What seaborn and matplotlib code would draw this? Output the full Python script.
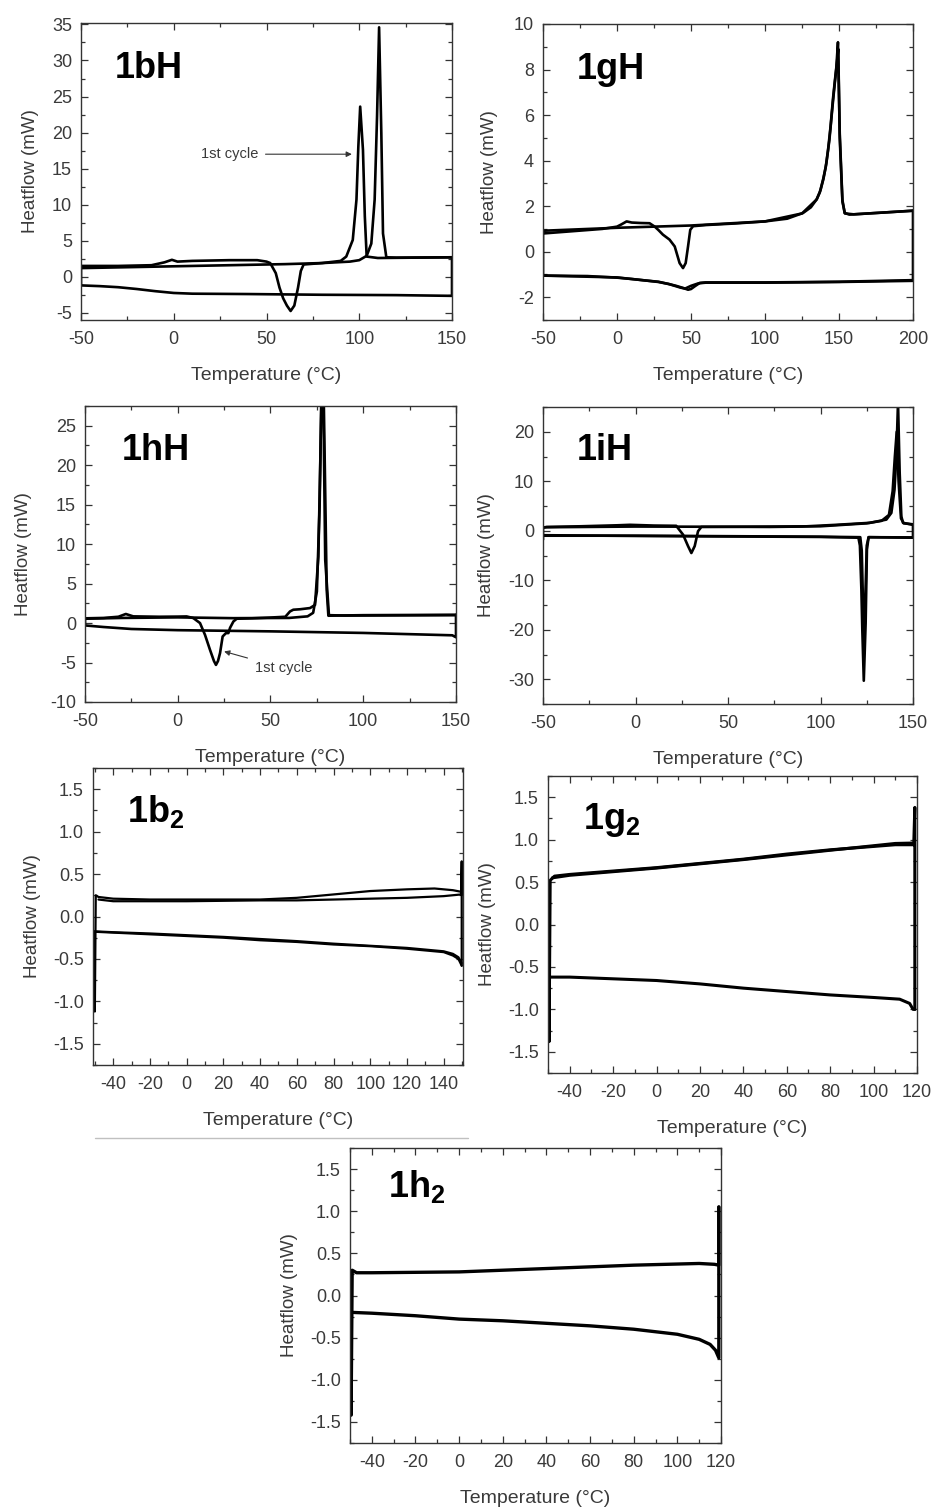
import matplotlib
matplotlib.use("Agg")
import matplotlib.pyplot as plt
import seaborn as sns
import pandas as pd
from matplotlib.ticker import MultipleLocator
from matplotlib.lines import Line2D

# ---------------- data ----------------
# 1bH
BH_HEAT1_T = [-50, -30, -12, -5, -1, 2, 10, 30, 45, 50, 52, 55, 57, 59, 61, 63, 65, 67, 68.5, 70,
              80, 90, 93, 96.5, 98.5, 99.5, 100.5, 102, 103, 104, 110, 130, 150]
BH_HEAT1_H = [1.5, 1.5, 1.6, 2.0, 2.35, 2.1, 2.2, 2.3, 2.3, 2.1, 1.9, 0.5, -1.5, -3.0, -4.0, -4.75, -4.0, -1.5, 0.8, 1.7,
              1.9, 2.2, 2.8, 5.1, 10.7, 18.0, 23.6, 17.6, 8.4, 2.8, 2.6, 2.65, 2.7]
BH_HEAT2_T = [-50, -20, 0, 20, 40, 60, 80, 95, 100, 104, 106.5, 108.3, 109.6, 110.7, 111.9, 112.8, 114.6, 120, 150]
BH_HEAT2_H = [1.2, 1.35, 1.45, 1.55, 1.65, 1.75, 1.9, 2.1, 2.3, 2.9, 4.6, 10.7, 22.3, 34.6, 19.9, 6.0, 2.7, 2.65, 2.7]
BH_COOL_T = [150, 150, 120, 80, 40, 10, 0, -10, -20, -30, -40, -50, -50]
BH_COOL_H = [2.7, -2.65, -2.55, -2.5, -2.4, -2.35, -2.25, -2.0, -1.7, -1.45, -1.3, -1.2, 1.5]

# 1gH
GH_HEAT1_T = [-50, -30, -10, 0, 3, 6.5, 10, 16, 22, 25.5, 28, 31, 35.5, 39, 42.3, 44.6, 46.4, 48, 49.5, 51.4,
              60, 80, 100, 115, 125.7, 131, 134.7, 137, 139.2, 141, 142.6, 144.3, 145.9, 147.2, 148.2, 149.3,
              150.5, 152.3, 153.8, 157, 180, 200]
GH_HEAT1_H = [0.8, 0.9, 1.0, 1.1, 1.2, 1.33, 1.28, 1.26, 1.25, 1.1, 0.95, 0.75, 0.53, 0.23, -0.5, -0.72, -0.5, 0.23, 0.96, 1.12,
              1.17, 1.24, 1.33, 1.45, 1.7, 1.95, 2.28, 2.6, 3.16, 3.7, 4.47, 5.5, 6.7, 7.5, 8.1, 9.2,
              5.2, 2.28, 1.7, 1.63, 1.72, 1.8]
GH_HEAT2_T = [-50, 0, 50, 100, 125, 135, 137.5, 139.5, 141.5, 143.5, 145.5, 147, 148.3, 149.5, 150.5, 152.3, 154, 160, 200]
GH_HEAT2_H = [0.92, 1.05, 1.15, 1.33, 1.68, 2.3, 2.7, 3.2, 3.9, 4.9, 6.3, 7.3, 8.1, 8.9, 5.0, 2.2, 1.68, 1.64, 1.8]
GH_COOL1_T = [200, 200, 150, 100, 60, 56, 53, 50, 48, 45, 40, 35, 28, 20, 10, 0, -20, -50, -50]
GH_COOL1_H = [1.8, -1.25, -1.32, -1.35, -1.35, -1.37, -1.5, -1.64, -1.67, -1.6, -1.5, -1.42, -1.32, -1.27, -1.2, -1.14, -1.07, -1.05, 0.8]
GH_COOL2_T = [200, 150, 100, 60, 55, 50, 46, 43, 40, 35, 28, 20, 0, -50]
GH_COOL2_H = [-1.28, -1.33, -1.36, -1.36, -1.39, -1.5, -1.62, -1.58, -1.52, -1.42, -1.33, -1.27, -1.13, -1.05]

# 1hH
HH_HEAT1_T = [-50, -40, -32, -28, -24, -10, 0, 4.8, 8.4, 12, 14.7, 17.4, 19.5, 20.6, 21.7, 22.8, 24.2, 26, 27.3, 28.2,
              30, 31.8, 40, 50, 58, 60.5, 62.3, 66, 71.3, 74, 75.8, 76.8, 77.6, 78.6, 79.6, 80.3, 81.2, 85, 100, 150]
HH_HEAT1_H = [0.6, 0.65, 0.8, 1.15, 0.85, 0.8, 0.82, 0.84, 0.63, 0.0, -1.5, -3.4, -4.8, -5.3, -4.8, -3.8, -1.7, -1.27, -1.27, -0.6,
              0.2, 0.55, 0.6, 0.7, 0.8, 1.47, 1.69, 1.75, 1.9, 2.3, 8.4, 20, 30, 30, 15, 4.2, 0.93, 0.95, 1.0, 1.05]
HH_HEAT2_T = [-50, -30, 0, 30, 60, 70, 73, 75, 76.5, 77.5, 78.5, 79.5, 81.5, 90, 150]
HH_HEAT2_H = [0.55, 0.65, 0.72, 0.62, 0.65, 0.85, 1.3, 4.0, 15, 30, 28, 8, 1.0, 0.95, 1.0]
HH_COOL_T = [150, 150, 148, 100, 50, 0, -25, -40, -50, -50]
HH_COOL_H = [1.05, -1.8, -1.55, -1.25, -1.05, -0.9, -0.75, -0.5, -0.3, 0.6]

# 1iH
IH_HEAT1_T = [-50, -48, -30, -10, -3, 10, 22, 25.7, 28.4, 30.2, 32, 33.8, 35.6, 50, 72.5, 90, 108.6, 126.6, 135.6, 138.3,
              140, 141, 141.9, 142.8, 143.7, 144.6, 150]
IH_HEAT1_H = [0.6, 0.77, 0.9, 1.1, 1.2, 1.05, 1.0, -0.78, -3.1, -4.5, -3.1, -0.1, 0.77, 0.8, 0.77, 0.85, 1.2, 1.6, 2.25, 3.6,
              8.3, 15, 26, 11.7, 2.9, 1.6, 1.2]
IH_HEAT2_T = [-50, 0, 50, 100, 125, 133, 137, 139, 140.2, 141.2, 142.2, 143.5, 145, 150]
IH_HEAT2_H = [0.7, 0.85, 0.8, 0.9, 1.5, 2.0, 3.2, 8.0, 15, 20, 10, 2.5, 1.5, 1.3]
IH_COOL1_T = [150, 150, 126, 125.1, 124.4, 123.4, 122.6, 122.1, 121.3, 120.5, 100, 50, 0, -50, -50]
IH_COOL1_H = [1.2, -1.4, -1.3, -3.8, -18.7, -30.3, -20, -11.9, -3, -1.4, -1.25, -1.15, -1.05, -0.9, 0.6]
IH_COOL2_T = [150, 126, 125, 124.2, 123.6, 123.0, 122.3, 121.5, 100, 50, 0, -50, -50]
IH_COOL2_H = [-1.35, -1.3, -3, -14, -22, -15, -4, -1.3, -1.2, -1.1, -1.0, -1.0, -1.8]

# 1b2
B2_HEAT1_T = [-50, -50, -49.5, -48, -40, -20, 0, 20, 40, 60, 80, 100, 120, 135, 145, 149.8]
B2_HEAT1_H = [-0.18, -1.12, 0.25, 0.23, 0.21, 0.2, 0.2, 0.2, 0.2, 0.22, 0.26, 0.3, 0.32, 0.33, 0.31, 0.29]
B2_HEAT2_T = [-48, -40, 0, 40, 60, 80, 100, 120, 140, 149.5, 149.8, 149.8]
B2_HEAT2_H = [0.2, 0.18, 0.18, 0.19, 0.19, 0.2, 0.21, 0.22, 0.24, 0.26, 0.65, -0.58]
B2_COOL1_T = [149.8, 148, 145, 140, 130, 120, 100, 80, 60, 40, 20, 0, -20, -40, -50]
B2_COOL1_H = [-0.58, -0.5, -0.46, -0.42, -0.4, -0.38, -0.35, -0.33, -0.3, -0.28, -0.25, -0.23, -0.21, -0.19, -0.18]
B2_COOL2_T = [149.8, 148, 145, 140, 130, 120, 100, 80, 60, 40, 20, 0, -20, -40, -50]
B2_COOL2_H = [-0.55, -0.48, -0.44, -0.41, -0.39, -0.37, -0.345, -0.32, -0.29, -0.265, -0.24, -0.22, -0.2, -0.185, -0.175]

# 1g2
G2_HEAT1_T = [-49.5, -49.5, -49, -47, -40, -20, 0, 20, 40, 60, 80, 100, 110, 118.5, 119, 119]
G2_HEAT1_H = [-0.62, -1.38, 0.52, 0.57, 0.59, 0.63, 0.67, 0.72, 0.77, 0.83, 0.88, 0.92, 0.94, 0.94, 1.38, -1.0]
G2_HEAT2_T = [-48, -40, 0, 40, 80, 110, 118.5]
G2_HEAT2_H = [0.55, 0.58, 0.665, 0.765, 0.875, 0.955, 0.96]
G2_COOL_T = [119, 118.2, 116.6, 112, 100, 80, 60, 40, 20, 0, -20, -40, -49.5]
G2_COOL_H = [-1.0, -1.0, -0.93, -0.88, -0.86, -0.83, -0.79, -0.75, -0.7, -0.66, -0.64, -0.62, -0.62]

# 1h2
H2_HEAT_T = [-49.5, -49.5, -49, -47, -40, 0, 40, 80, 110, 117, 119, 119]
H2_HEAT_H = [-0.2, -1.42, 0.3, 0.27, 0.27, 0.28, 0.32, 0.36, 0.38, 0.37, 0.36, 1.05]
H2_COOL_T = [119, 119, 117.5, 115, 110, 100, 80, 60, 40, 20, 0, -20, -40, -49.5]
H2_COOL_H = [1.05, -0.74, -0.65, -0.58, -0.52, -0.46, -0.4, -0.36, -0.33, -0.3, -0.28, -0.24, -0.21, -0.2]

PANEL_LABELS = ["1bH", "1gH", "1hH", "1iH", "1b$_{\\mathbf{2}}$", "1g$_{\\mathbf{2}}$", "1h$_{\\mathbf{2}}$"]
XLABEL = "Temperature (\u00b0C)"
YLABEL = "Heatflow (mW)"

# ---------------- style ----------------
sns.set_theme(style="ticks")
plt.rcParams['font.family'] = ['Liberation Sans', 'DejaVu Sans']
plt.rcParams['axes.unicode_minus'] = False
plt.rcParams['mathtext.fontset'] = 'custom'
plt.rcParams['mathtext.bf'] = 'Liberation Sans:bold'
plt.rcParams['mathtext.rm'] = 'Liberation Sans'

W, H = 937, 1509
fig = plt.figure(figsize=(W / 100, H / 100), dpi=100)
fig.patch.set_facecolor('white')

TXT = '#3a3a3a'

panels = [
    dict(rect=(81, 23, 452, 320), xlim=(-50, 150), ylim=(-6, 35.2), xt=(50, 25), yt=(5, 2.5),
         curves=[(BH_HEAT1_T, BH_HEAT1_H), (BH_HEAT2_T, BH_HEAT2_H), (BH_COOL_T, BH_COOL_H)],
         lw=1.9, ypad=9, lab=(0.092, 0.848)),
    dict(rect=(543, 24, 913, 320), xlim=(-50, 200), ylim=(-3, 10), xt=(50, 25), yt=(2, 1),
         curves=[(GH_HEAT1_T, GH_HEAT1_H), (GH_HEAT2_T, GH_HEAT2_H), (GH_COOL1_T, GH_COOL1_H),
                 (GH_COOL2_T, GH_COOL2_H)],
         lw=1.9, ypad=11.5, lab=(0.092, 0.845)),
    dict(rect=(85, 406, 456, 702), xlim=(-50, 150), ylim=(-10, 27.5), xt=(50, 25), yt=(5, 2.5),
         curves=[(HH_HEAT1_T, HH_HEAT1_H), (HH_HEAT2_T, HH_HEAT2_H), (HH_COOL_T, HH_COOL_H)],
         lw=1.9, ypad=13, lab=(0.10, 0.851)),
    dict(rect=(543, 407, 913, 704), xlim=(-50, 150), ylim=(-35, 25), xt=(50, 25), yt=(10, 5),
         curves=[(IH_HEAT1_T, IH_HEAT1_H), (IH_HEAT2_T, IH_HEAT2_H), (IH_COOL1_T, IH_COOL1_H),
                 (IH_COOL2_T, IH_COOL2_H)],
         lw=1.9, ypad=9, lab=(0.092, 0.855)),
    dict(rect=(93, 768, 463, 1065), xlim=(-51, 150.5), ylim=(-1.75, 1.75), xt=(20, 10), yt=(0.5, 0.25),
         curves=[(B2_HEAT1_T, B2_HEAT1_H), (B2_HEAT2_T, B2_HEAT2_H), (B2_COOL1_T, B2_COOL1_H),
                 (B2_COOL2_T, B2_COOL2_H)],
         lw=1.6, ypad=9, lab=(0.092, 0.855)),
    dict(rect=(548, 776, 917, 1073), xlim=(-50, 120), ylim=(-1.75, 1.75), xt=(20, 10), yt=(0.5, 0.25),
         curves=[(G2_HEAT1_T, G2_HEAT1_H), (G2_HEAT2_T, G2_HEAT2_H), (G2_COOL_T, G2_COOL_H)],
         lw=2.2, ypad=9, lab=(0.095, 0.852)),
    dict(rect=(350, 1148, 721, 1443), xlim=(-50, 120), ylim=(-1.75, 1.75), xt=(20, 10), yt=(0.5, 0.25),
         curves=[(H2_HEAT_T, H2_HEAT_H), (H2_COOL_T, H2_COOL_H)],
         lw=2.4, ypad=9, lab=(0.102, 0.868)),
]

axes = []
for i, p in enumerate(panels):
    x0, y0, x1, y1 = p['rect']
    ax = fig.add_axes([x0 / W, 1 - y1 / H, (x1 - x0) / W, (y1 - y0) / H])
    axes.append(ax)
    for T, Hf in p['curves']:
        df = pd.DataFrame({'T': T, 'H': Hf})
        sns.lineplot(data=df, x='T', y='H', sort=False, estimator=None, ax=ax,
                     color='black', lw=p['lw'], solid_joinstyle='round')
    ax.set_xlim(*p['xlim'])
    ax.set_ylim(*p['ylim'])
    ax.xaxis.set_major_locator(MultipleLocator(p['xt'][0]))
    ax.xaxis.set_minor_locator(MultipleLocator(p['xt'][1]))
    ax.yaxis.set_major_locator(MultipleLocator(p['yt'][0]))
    ax.yaxis.set_minor_locator(MultipleLocator(p['yt'][1]))
    ax.tick_params(which='both', direction='in', top=True, right=True, color='#333333', width=0.9)
    ax.tick_params(which='major', length=5, pad=6.5, labelsize=13, labelcolor=TXT)
    ax.tick_params(axis='x', which='major', pad=8)
    ax.tick_params(which='minor', length=3)
    for s in ax.spines.values():
        s.set_color('#333333')
        s.set_linewidth(1.0)
        s.set_visible(True)
    ax.set_xlabel(XLABEL, fontsize=14, color=TXT, labelpad=13.5)
    ax.set_ylabel(YLABEL, fontsize=13.5, color=TXT, labelpad=p['ypad'])
    ax.text(p['lab'][0], p['lab'][1], PANEL_LABELS[i], transform=ax.transAxes,
            fontsize=26, fontweight='bold', color='black', ha='left', va='center')

arrow = dict(arrowstyle='-|>', color='#333333', lw=0.8, mutation_scale=8, shrinkA=3, shrinkB=0)
axes[0].annotate("1st cycle", xy=(96, 17), xytext=(30, 17), fontsize=10.5, color=TXT,
                 ha='center', va='center', arrowprops=arrow)
axes[2].annotate("1st cycle", xy=(25, -3.6), xytext=(57, -5.7), fontsize=10.5, color=TXT,
                 ha='center', va='center', arrowprops=arrow)

# faint separator line present in the source composite
fig.add_artist(Line2D([95 / W, 468 / W], [1 - 1138 / H] * 2, color='#c0c0c0', lw=1.0))

fig.savefig("out.png", dpi=100, facecolor='white')
